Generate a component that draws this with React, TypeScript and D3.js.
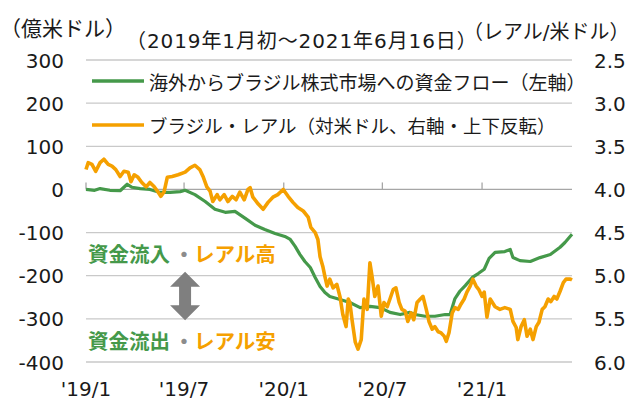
import React from 'react'
import * as d3 from 'd3'

const W = 631
const H = 401

// 海外からブラジル株式市場への資金フロー（累積、億米ドル）
const flowDates = [
  '2019-01-01', '2019-01-17', '2019-01-27', '2019-02-14', '2019-03-05', '2019-03-18', '2019-03-27',
  '2019-04-11', '2019-04-29', '2019-05-18', '2019-06-05', '2019-06-24', '2019-07-03', '2019-07-21',
  '2019-08-09', '2019-08-27', '2019-09-15', '2019-10-03', '2019-10-22', '2019-11-09', '2019-11-27',
  '2019-12-16', '2020-01-03', '2020-01-13', '2020-01-22', '2020-01-31', '2020-02-09', '2020-02-19',
  '2020-02-28', '2020-03-08', '2020-03-17', '2020-03-26', '2020-04-14', '2020-05-02', '2020-05-21',
  '2020-06-08', '2020-06-27', '2020-07-15', '2020-08-03', '2020-08-21', '2020-08-30', '2020-09-18',
  '2020-10-06', '2020-10-25', '2020-11-03', '2020-11-12', '2020-11-21', '2020-12-01', '2020-12-14',
  '2020-12-25', '2021-01-05', '2021-01-14', '2021-01-25', '2021-02-12', '2021-02-22', '2021-02-27',
  '2021-03-12', '2021-03-31', '2021-04-18', '2021-05-07', '2021-05-25', '2021-06-03', '2021-06-16',
]
const flowValues = [
  0, -2, 2, -2, -3, 12, 5,
  2, 0, -7, -7, -5, -2, -12,
  -28, -46, -53, -51, -67, -83, -93,
  -102, -109, -116, -132, -151, -167, -181,
  -204, -225, -239, -248, -255, -262, -274,
  -271, -274, -285, -290, -285, -290, -294,
  -294, -290, -290, -253, -236, -223, -204,
  -195, -185, -160, -146, -144, -139, -158,
  -165, -167, -158, -151, -134, -123, -104,
]

// ブラジル・レアル（対米ドル）
const brlDates = [
  '2019-01-01', '2019-01-05', '2019-01-12', '2019-01-19', '2019-01-27', '2019-02-03', '2019-02-11',
  '2019-02-18', '2019-02-25', '2019-03-05', '2019-03-12', '2019-03-20', '2019-03-25', '2019-03-31',
  '2019-04-07', '2019-04-14', '2019-04-22', '2019-04-29', '2019-05-07', '2019-05-14', '2019-05-19',
  '2019-05-25', '2019-05-31', '2019-06-09', '2019-06-20', '2019-07-03', '2019-07-12', '2019-07-21',
  '2019-07-30', '2019-08-05', '2019-08-12', '2019-08-18', '2019-08-23', '2019-08-31', '2019-09-05',
  '2019-09-13', '2019-09-20', '2019-09-28', '2019-10-05', '2019-10-12', '2019-10-20', '2019-10-27',
  '2019-10-31', '2019-11-05', '2019-11-15', '2019-11-24', '2019-12-03', '2019-12-12', '2019-12-21',
  '2019-12-31', '2020-01-09', '2020-01-18', '2020-01-27', '2020-02-06', '2020-02-15', '2020-02-20',
  '2020-02-28', '2020-03-04', '2020-03-08', '2020-03-13', '2020-03-17', '2020-03-21', '2020-03-26',
  '2020-04-01', '2020-04-08', '2020-04-14', '2020-04-19', '2020-04-25', '2020-04-29', '2020-05-02',
  '2020-05-06', '2020-05-12', '2020-05-17', '2020-05-23', '2020-05-28', '2020-06-03', '2020-06-08',
  '2020-06-12', '2020-06-17', '2020-06-23', '2020-06-29', '2020-07-04', '2020-07-10', '2020-07-15',
  '2020-07-21', '2020-07-26', '2020-08-01', '2020-08-06', '2020-08-12', '2020-08-17', '2020-08-23',
  '2020-08-28', '2020-09-03', '2020-09-09', '2020-09-14', '2020-09-20', '2020-09-25', '2020-10-01',
  '2020-10-06', '2020-10-12', '2020-10-17', '2020-10-23', '2020-10-27', '2020-11-01', '2020-11-07',
  '2020-11-12', '2020-11-18', '2020-11-23', '2020-11-29', '2020-12-04', '2020-12-10', '2020-12-15',
  '2020-12-21', '2020-12-26', '2021-01-01', '2021-01-05', '2021-01-10', '2021-01-16', '2021-01-25',
  '2021-02-03', '2021-02-12', '2021-02-22', '2021-02-27', '2021-03-05', '2021-03-08', '2021-03-14',
  '2021-03-20', '2021-03-25', '2021-03-31', '2021-04-05', '2021-04-11', '2021-04-16', '2021-04-22',
  '2021-04-27', '2021-05-03', '2021-05-08', '2021-05-14', '2021-05-19', '2021-05-25', '2021-05-31',
  '2021-06-05', '2021-06-13', '2021-06-16',
]
const brlValues = [
  3.77, 3.69, 3.71, 3.79, 3.69, 3.65, 3.71,
  3.73, 3.77, 3.85, 3.79, 3.80, 3.91, 3.83,
  3.86, 3.92, 3.97, 3.92, 3.97, 4.03, 4.08,
  4.03, 3.86, 3.85, 3.83, 3.80, 3.75, 3.72,
  3.77, 3.85, 3.97, 4.02, 4.14, 4.06, 4.12,
  4.06, 4.14, 4.08, 4.12, 4.03, 4.12, 4.00,
  3.98, 4.09, 4.17, 4.23, 4.15, 4.09, 4.06,
  4.00, 4.08, 4.15, 4.21, 4.25, 4.32, 4.44,
  4.50, 4.58, 4.78, 4.89, 5.01, 5.12, 5.04,
  5.14, 5.10, 5.25, 5.45, 5.59, 5.27, 5.31,
  5.51, 5.77, 5.85, 5.74, 5.27, 5.39, 4.85,
  5.01, 5.24, 5.12, 5.47, 5.31, 5.36, 5.27,
  5.16, 5.14, 5.31, 5.39, 5.41, 5.53, 5.43,
  5.51, 5.31, 5.27, 5.24, 5.39, 5.53, 5.62,
  5.59, 5.65, 5.66, 5.70, 5.76, 5.66, 5.43,
  5.37, 5.39, 5.33, 5.27, 5.19, 5.12, 5.04,
  5.12, 5.16, 5.24, 5.19, 5.48, 5.27, 5.36,
  5.39, 5.37, 5.39, 5.53, 5.60, 5.74, 5.59,
  5.51, 5.70, 5.62, 5.74, 5.59, 5.54, 5.39,
  5.36, 5.27, 5.30, 5.24, 5.27, 5.18, 5.08,
  5.04, 5.04, 5.05,
]

const leftTicks = [300, 200, 100, 0, -100, -200, -300, -400]
const rightTicks = [2.5, 3.0, 3.5, 4.0, 4.5, 5.0, 5.5, 6.0]
const xTickDates = ['2019-01-01', '2019-07-01', '2020-01-01', '2020-07-01', '2021-01-01']
const xTickLabels = ["'19/1", "'19/7", "'20/1", "'20/7", "'21/1"]

const GREEN = '#45994a'
const ORANGE = '#f5a000'
const NUM_FONT = '"DejaVu Sans", "Noto Sans CJK JP", sans-serif'
const JP_FONT = '"Noto Sans CJK JP", sans-serif'

const parse = d3.timeParse('%Y-%m-%d')

export default function App() {
  const x = d3.scaleTime()
    .domain([parse('2019-01-01')!, parse('2021-06-16')!])
    .range([86, 572])
  const yL = d3.scaleLinear().domain([-400, 300]).range([362, 60])
  const yR = d3.scaleLinear().domain([6.0, 2.5]).range([362, 60])

  const flowLine = d3.line<number>()
    .x((_, i) => x(parse(flowDates[i])!))
    .y(d => yL(d))
  const brlLine = d3.line<number>()
    .x((_, i) => x(parse(brlDates[i])!))
    .y(d => yR(d))

  const [x0, x1] = x.range()

  // 上下矢印
  const cx = x(parse('2019-07-01')!) + 1
  const top = yL(-191)
  const bot = yL(-303)
  const hw = 15, hh = 15, sw = 6
  const arrow = [
    [cx, top], [cx + hw, top + hh], [cx + sw, top + hh], [cx + sw, bot - hh], [cx + hw, bot - hh],
    [cx, bot], [cx - hw, bot - hh], [cx - sw, bot - hh], [cx - sw, top + hh], [cx - hw, top + hh],
  ].map(p => p.join(',')).join(' ')

  return (
    <svg width={W} height={H} style={{ position: 'absolute', left: 0, top: 0, background: '#fff' }}>
      {/* grid */}
      {leftTicks.filter(t => t !== 0).map(t => (
        <line key={t} x1={x0} x2={x1} y1={yL(t)} y2={yL(t)} stroke="#c9c9c9" strokeWidth={1.3} />
      ))}
      {/* zero axis + ticks */}
      <line x1={x0} x2={x1} y1={yL(0)} y2={yL(0)} stroke="#a6a6a6" strokeWidth={1.3} />
      {xTickDates.map(d => (
        <line key={d} x1={x(parse(d)!)} x2={x(parse(d)!)} y1={yL(0)} y2={yL(0) - 7} stroke="#a6a6a6" strokeWidth={1.3} />
      ))}

      {/* left axis labels */}
      {leftTicks.map(t => (
        <text key={t} x={64} y={yL(t) + 7.5} textAnchor="end" fontFamily={NUM_FONT} fontSize={20} fill="#1a1a1a">{t}</text>
      ))}
      {/* right axis labels */}
      {rightTicks.map(t => (
        <text key={t} x={594} y={yR(t) + 7.5} fontFamily={NUM_FONT} fontSize={20} fill="#1a1a1a">{t.toFixed(1)}</text>
      ))}
      {/* x labels */}
      {xTickDates.map((d, i) => (
        <text key={d} x={x(parse(d)!)} y={396} textAnchor="middle" fontFamily={NUM_FONT} fontSize={20} fill="#1a1a1a">{xTickLabels[i]}</text>
      ))}

      {/* titles */}
      <text x={0} y={36} fontFamily={JP_FONT} fontSize={21} fill="#1a1a1a">（億米ドル）</text>
      <text x={126} y={48} fontFamily={NUM_FONT} fontSize={20} letterSpacing={0.9} fill="#1a1a1a">（2019年1月初～2021年6月16日）</text>
      <text x={463} y={39} fontFamily={NUM_FONT} fontSize={20} fill="#1a1a1a">（レアル/米ドル）</text>

      {/* legend */}
      <line x1={92} x2={144} y1={81} y2={81} stroke={GREEN} strokeWidth={3.5} />
      <text x={149} y={81} dominantBaseline="central" fontFamily={JP_FONT} fontSize={19} fill="#1a1a1a">海外からブラジル株式市場への資金フロー（左軸）</text>
      <line x1={92} x2={144} y1={125} y2={125} stroke={ORANGE} strokeWidth={3.5} />
      <text x={149} y={125} dominantBaseline="central" fontFamily={JP_FONT} fontSize={18.5} fill="#1a1a1a">ブラジル・レアル（対米ドル、右軸・上下反転）</text>

      {/* series */}
      <path d={flowLine(flowValues) ?? ''} fill="none" stroke={GREEN} strokeWidth={3.2} strokeLinejoin="round" />
      <path d={brlLine(brlValues) ?? ''} fill="none" stroke={ORANGE} strokeWidth={3.6} strokeLinejoin="round" />

      {/* annotations */}
      <text y={yL(-148)} dominantBaseline="central" fontFamily={JP_FONT} fontSize={20.5} fontWeight="bold">
        <tspan x={88} fill={GREEN}>資金流入</tspan>
        <tspan x={184} textAnchor="middle" fill="#8c8c8c">・</tspan>
        <tspan x={194} fill={ORANGE}>レアル高</tspan>
      </text>
      <polygon points={arrow} fill="#7f7f7f" />
      <text y={yL(-350)} dominantBaseline="central" fontFamily={JP_FONT} fontSize={20.5} fontWeight="bold">
        <tspan x={88} fill={GREEN}>資金流出</tspan>
        <tspan x={184} textAnchor="middle" fill="#8c8c8c">・</tspan>
        <tspan x={194} fill={ORANGE}>レアル安</tspan>
      </text>
    </svg>
  )
}
